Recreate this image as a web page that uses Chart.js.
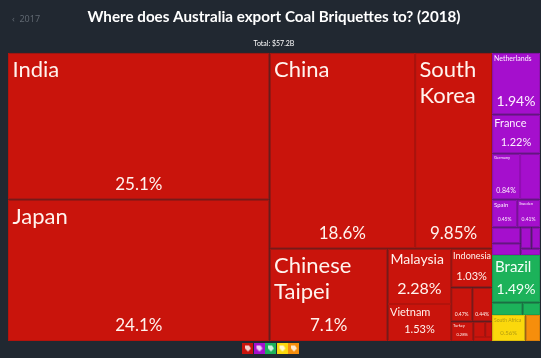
<!DOCTYPE html>
<html>
<head>
<meta charset="utf-8">
<title>Australia Coal Briquettes exports 2018</title>
<script src="https://cdn.jsdelivr.net/npm/chart.js@4"></script>
<style>
    html, body { margin: 0; padding: 0; background: #212831; }
    #wrap { position: relative; width: 541px; height: 358px; overflow: hidden; }
    #prev { position: absolute; left: 12px; top: 12px; color: #5f6770; font: 9px "Noto Sans", sans-serif; }
    canvas { display: block; }
</style>
</head>
<body>
<div id="wrap">
    <div id="prev">&#8249;&nbsp; 2017</div>
    <canvas id="treeChart" width="541" height="358"></canvas>
</div>
<script>
// Values, share of total in %
const titleText = 'Where does Australia export Coal Briquettes to? (2018)';
const totalText = 'Total: $57.2B';

const asiaLabels = ['India', 'Japan', 'China', 'South Korea', 'Chinese Taipei', 'Malaysia', 'Vietnam', 'Indonesia', '', '', 'Turkey', '', '', ''];
const asiaValues = [25.1, 24.1, 18.6, 9.85, 7.1, 2.28, 1.53, 1.03, 0.47, 0.44, 0.28, 0.12, 0.07, 0.05];
const asiaShown = ['25.1%', '24.1%', '18.6%', '9.85%', '7.1%', '2.28%', '1.53%', '1.03%', '0.47%', '0.44%', '0.28%', '', '', ''];

const europeLabels = ['Netherlands', 'France', 'Germany', '', 'Spain', 'Sweden', '', '', '', '', ''];
const europeValues = [1.94, 1.22, 0.84, 0.6, 0.45, 0.41, 0.3, 0.22, 0.15, 0.12, 0.08];
const europeShown = ['1.94%', '1.22%', '0.84%', '', '0.45%', '0.41%', '', '', '', '', ''];

const americaLabels = ['Brazil', '', ''];
const americaValues = [1.49, 0.25, 0.14];
const americaShown = ['1.49%', '', ''];

const africaLabels = ['South Africa'];
const africaValues = [0.56];
const africaShown = ['0.56%'];

const otherLabels = [''];
const otherValues = [0.25];
const otherShown = [''];

const groupColors = ['#c9140c', '#a50fcd', '#1cb25a', '#fbd80c', '#f68e0c'];
const groupBorders = ['#b3130c', '#930eb6', '#19a050', '#e0c10a', '#dc7f0a'];
const groupText = ['#fff3ee', '#fdf0ff', '#f2fff7', '#b09a12', '#fff3ee'];

// font sizes for the labelled cells: [name, share]
const labelFonts = {
    'India': [22, 17], 'Japan': [22, 17], 'China': [22, 17], 'South Korea': [22, 17],
    'Chinese Taipei': [22, 17], 'Malaysia': [14, 16], 'Vietnam': [11, 11], 'Indonesia': [9, 11],
    'Turkey': [4, 4], 'Netherlands': [7, 14], 'France': [11, 11], 'Germany': [4, 7],
    'Spain': [6, 5], 'Sweden': [4, 5], 'Brazil': [15, 14], 'South Africa': [5, 6]
};
const labelFamily = '"Lato"';

// treemap units, the scales map them on to the chart area
const treeWidth = 532;
const treeHeight = 288;

function squarify(nodes, x0, y0, x1, y1) {
    const ratio = (1 + Math.sqrt(5)) / 2;
    let value = nodes.reduce((s, n) => s + n.value, 0);
    const k = (x1 - x0) * (y1 - y0) / value;
    let i0 = 0;
    while (i0 < nodes.length) {
        const dx = x1 - x0, dy = y1 - y0;
        let i1 = i0 + 1, sum = nodes[i0].value, minV = sum, maxV = sum;
        // areas are value * k, same test as d3's squarify
        const alpha = Math.max(dy / dx, dx / dy) / (value * k * ratio);
        const test = (s, mn, mx) => {
            const beta = s * s * k * k * alpha;
            return Math.max(mx * k / beta, beta / (mn * k));
        };
        let minRatio = test(sum, minV, maxV);
        for (; i1 < nodes.length; i1++) {
            const v = nodes[i1].value;
            const nextRatio = test(sum + v, Math.min(minV, v), Math.max(maxV, v));
            if (nextRatio > minRatio) break;
            sum += v; minV = Math.min(minV, v); maxV = Math.max(maxV, v); minRatio = nextRatio;
        }
        const row = nodes.slice(i0, i1);
        if (dx < dy) {
            const h = sum / value * dy;
            let x = x0;
            row.forEach(n => { const w = n.value / sum * dx; Object.assign(n, { x0: x, x1: x + w, y0: y0, y1: y0 + h }); x += w; });
            y0 += h;
        } else {
            const w = sum / value * dx;
            let y = y0;
            row.forEach(n => { const h = n.value / sum * dy; Object.assign(n, { x0: x0, x1: x0 + w, y0: y, y1: y + h }); y += h; });
            x0 += w;
        }
        value -= sum;
        i0 = i1;
    }
}

function makeGroup(labels, values, shown, index) {
    const children = values.map((v, i) => ({ value: v, label: labels[i], shown: shown[i], group: index }));
    return { value: values.reduce((a, b) => a + b, 0), children: children };
}

const groups = [
    makeGroup(asiaLabels, asiaValues, asiaShown, 0),
    makeGroup(europeLabels, europeValues, europeShown, 1),
    makeGroup(americaLabels, americaValues, americaShown, 2),
    makeGroup(africaLabels, africaValues, africaShown, 3),
    makeGroup(otherLabels, otherValues, otherShown, 4)
];
squarify(groups, 0, 0, treeWidth, treeHeight);
const cells = [];
groups.forEach(g => {
    squarify(g.children, g.x0, g.y0, g.x1, g.y1);
    cells.push(...g.children);
});

// Chart.js has no treemap type, so a small controller that places bar elements
const noSkip = { top: false, left: false, bottom: false, right: false };
class TreemapController extends Chart.DatasetController {
    update(mode) {
        this.updateElements(this._cachedMeta.data, 0, this._cachedMeta.data.length, mode);
    }
    updateElements(rects, start, count, mode) {
        const { xScale, yScale } = this._cachedMeta;
        const data = this.getDataset().data;
        for (let i = start; i < start + count; i++) {
            const d = data[i];
            const left = xScale.getPixelForValue(d.x0);
            const right = xScale.getPixelForValue(d.x1);
            this.updateElement(rects[i], i, {
                x: (left + right) / 2,
                y: yScale.getPixelForValue(d.y0),
                base: yScale.getPixelForValue(d.y1),
                width: right - left,
                horizontal: false,
                borderSkipped: noSkip,
                enableBorderRadius: false,
                inflateAmount: 0,
                options: this.resolveDataElementOptions(i, mode)
            }, mode);
        }
    }
}
TreemapController.id = 'treemap';
TreemapController.defaults = { datasetElementType: false, dataElementType: 'bar' };
Chart.register(TreemapController);

function wrapWords(ctx, text, maxWidth) {
    const lines = [];
    let line = '';
    text.split(' ').forEach(word => {
        const next = line ? line + ' ' + word : word;
        if (line && ctx.measureText(next).width > maxWidth) {
            lines.push(line);
            line = word;
        } else {
            line = next;
        }
    });
    lines.push(line);
    return lines;
}

const cellLabels = {
    id: 'cellLabels',
    afterDatasetsDraw(chart) {
        const ctx = chart.ctx;
        const rects = chart.getDatasetMeta(0).data;
        ctx.save();
        ctx.textBaseline = 'alphabetic';
        cells.forEach((c, i) => {
            const r = rects[i];
            const left = r.x - r.width / 2, right = r.x + r.width / 2;
            const fonts = labelFonts[c.label] || [5, 5];
            ctx.fillStyle = groupText[c.group];
            if (c.label) {
                ctx.font = fonts[0] + 'px ' + labelFamily;
                ctx.textAlign = 'left';
                const pad = Math.max(2, fonts[0] / 5);
                wrapWords(ctx, c.label, r.width - pad * 2).forEach((line, n) => {
                    ctx.fillText(line, left + pad, r.y + fonts[0] * 0.9 + pad + n * fonts[0] * 1.2);
                });
            }
            if (c.shown) {
                ctx.font = fonts[1] + 'px ' + labelFamily;
                ctx.textAlign = 'center';
                ctx.fillText(c.shown, (left + right) / 2, r.base - 4 - fonts[1] * 0.35);
            }
        });
        ctx.restore();
    }
};

// little square icons under the map
function makeIcon(color) {
    const c = document.createElement('canvas');
    c.width = 11; c.height = 11;
    const g = c.getContext('2d');
    g.fillStyle = color;
    g.fillRect(0, 0, 11, 11);
    g.fillStyle = 'rgba(255,255,255,0.8)';
    g.beginPath();
    g.moveTo(3, 3); g.lineTo(7, 3); g.lineTo(9, 6); g.lineTo(6, 9); g.lineTo(3, 6);
    g.closePath();
    g.fill();
    return c;
}

const ctx = document.getElementById('treeChart').getContext('2d');
new Chart(ctx, {
    type: 'treemap',
    data: {
        labels: cells.map(c => c.label),
        datasets: [{
            data: cells,
            parsing: false,
            backgroundColor: cells.map(c => groupColors[c.group]),
            borderColor: cells.map(c => groupBorders[c.group]),
            borderWidth: 1
        }]
    },
    options: {
        responsive: false,
        animation: false,
        events: [],
        layout: { padding: { left: 8, right: 1, top: 0, bottom: -7 } },
        scales: {
            x: { type: 'linear', display: false, min: 0, max: treeWidth },
            y: { type: 'linear', display: false, min: 0, max: treeHeight, reverse: true }
        },
        plugins: {
            tooltip: { enabled: false },
            title: {
                display: true,
                text: titleText,
                color: '#ffffff',
                font: { family: labelFamily, size: 15.2, weight: '700' },
                padding: { top: 8, bottom: 13 }
            },
            subtitle: {
                display: true,
                text: totalText,
                color: '#ffffff',
                font: { family: labelFamily, size: 7 },
                padding: { top: 0, bottom: 5 }
            },
            legend: {
                display: true,
                position: 'bottom',
                labels: {
                    usePointStyle: true,
                    pointStyleWidth: 4.5,
                    padding: 0,
                    font: { size: 14 },
                    generateLabels: () => groupColors.map(color => ({
                        text: '',
                        pointStyle: makeIcon(color),
                        fillStyle: color,
                        strokeStyle: color,
                        lineWidth: 0
                    }))
                }
            }
        }
    },
    plugins: [cellLabels]
});
</script>
</body>
</html>
